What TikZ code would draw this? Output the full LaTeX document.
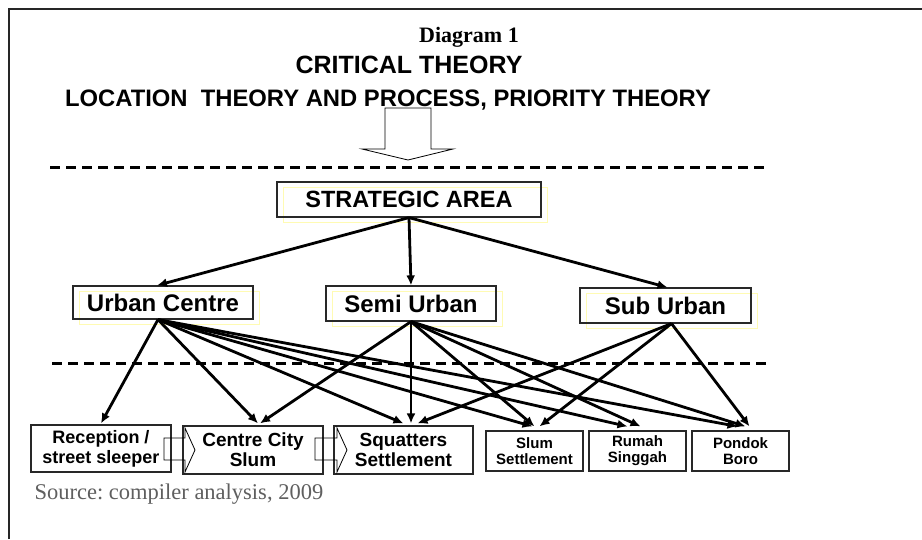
\documentclass[tikz,border=0pt]{standalone}
\usepackage{fontspec}
\setmainfont{Liberation Serif}
\newfontfamily\headfont{Liberation Sans}
\usetikzlibrary{arrows.meta,shadows}
\definecolor{boxline}{RGB}{40,40,40}
\definecolor{sourcegray}{RGB}{95,95,95}
\newcommand{\linkwidth}{2.8pt}
\frenchspacing

\tikzset{
  areabox/.style={draw=boxline, line width=1.2pt, inner sep=0pt,
    font=\headfont\bfseries\fontsize{24}{28}\selectfont,
    general shadow={shadow xshift=6pt, shadow yshift=-5pt, draw=yellow!30, line width=.8pt}},
  placebox/.style={draw=boxline, line width=1.2pt, inner sep=0pt, align=center},
  link/.style={line width=\linkwidth, -{Latex[length=10pt,width=9pt]}},
  cutline/.style={line width=3pt, dash pattern=on 10pt off 6pt}
}

\begin{document}
\begin{tikzpicture}[x=1pt,y=-1pt]
      \useasboundingbox (0,0) rectangle (922,539);
      \draw[line width=2pt, black!85] (9,539) -- (9,9) -- (922,9);

      \node (title) at (469,42) [anchor=base, font=\bfseries\fontsize{22}{26}\selectfont] {Diagram 1};
      \node (critical) at (409,73) [anchor=base, font=\headfont\bfseries\fontsize{25}{28}\selectfont] {CRITICAL THEORY};
      \node (location) at (388,106) [anchor=base, font=\headfont\bfseries\fontsize{23.8}{28}\selectfont] {LOCATION\ \ THEORY AND PROCESS, PRIORITY THEORY};

      \draw[line width=.8pt, fill=white] (385,108) -- (431,108) -- (431,149) -- (453,149) -- (408,160) -- (362,149) -- (385,149) -- cycle;

      \draw[cutline] (50,167) -- (770,167);
      \draw[cutline] (52,363) -- (772,363);

      \node (strategic) at (409,199.5) [areabox, minimum width=264pt, minimum height=35pt, font=\headfont\bfseries\fontsize{23.5}{28}\selectfont] {STRATEGIC AREA};
      \node (urban) at (163,302.5) [areabox, minimum width=180pt, minimum height=33pt] {Urban Centre};
      \node (semi) at (411,303.5) [areabox, minimum width=170pt, minimum height=35pt] {Semi Urban};
      \node (suburb) at (665.5,305.5) [areabox, minimum width=171pt, minimum height=35pt] {Sub Urban};

      \node (reception) at (101,448.5) [placebox, minimum width=140pt, minimum height=47pt, font=\headfont\bfseries\fontsize{18}{20}\selectfont] {Reception /\\street sleeper};
      \node (citycentre) at (253,450) [placebox, minimum width=140pt, minimum height=48pt, font=\headfont\bfseries\fontsize{19}{20}\selectfont] {Centre City\\Slum};
      \node (squatters) at (403.5,450) [placebox, minimum width=139pt, minimum height=48pt, font=\headfont\bfseries\fontsize{19}{20}\selectfont] {Squatters\\Settlement};
      \node (slum) at (534.5,451) [placebox, minimum width=97pt, minimum height=40pt, font=\headfont\bfseries\fontsize{15}{16}\selectfont] {Slum\\Settlement};
      \node (rumah) at (637.5,451) [placebox, minimum width=97pt, minimum height=40pt, font=\headfont\bfseries\fontsize{15}{16}\selectfont] {Rumah\\Singgah};
      \node (pondok) at (740.5,451) [placebox, minimum width=97pt, minimum height=40pt, font=\headfont\bfseries\fontsize{15}{16}\selectfont] {Pondok\\Boro};

      \draw[line width=.8pt] (164,438) -- (185,438) -- (185,428) -- (195,450) -- (185,472) -- (185,460) -- (164,460) -- cycle;
      \draw[line width=.8pt] (315,438) -- (337,438) -- (337,428) -- (347,450) -- (337,472) -- (337,460) -- (315,460) -- cycle;

      \path[link] (strategic.south) edge ([xshift=-6pt]urban.north) edge (semi.north) edge ([xshift=2pt]suburb.north);
      \path[link] ([xshift=-5pt]urban.south) edge ([yshift=1pt]reception.north) edge ([xshift=5pt,yshift=2pt]citycentre.north)
        edge ([yshift=2pt]squatters.north) edge ([xshift=-2pt,yshift=4pt]slum.north)
        edge ([xshift=-10pt,yshift=4pt]rumah.north) edge ([xshift=-3pt,yshift=4pt]pondok.north);
      \path[link] (semi.south) edge ([xshift=7pt,yshift=2pt]citycentre.north) edge ([xshift=7.5pt,yshift=2pt]squatters.north)
        edge ([yshift=4pt]slum.north) edge ([xshift=3pt,yshift=4pt]rumah.north) edge ([xshift=5pt,yshift=4pt]pondok.north);
      \path[link] ([xshift=6pt]suburb.south) edge ([xshift=14pt,yshift=2pt]squatters.north) edge ([xshift=5pt,yshift=4pt]slum.north)
        edge ([xshift=9pt,yshift=4pt]pondok.north);

      \node (source) at (31,499) [anchor=base west, text=sourcegray, font=\fontsize{22.5}{26}\selectfont] {Source: compiler analysis, 2009};
    \end{tikzpicture}
\end{document}
